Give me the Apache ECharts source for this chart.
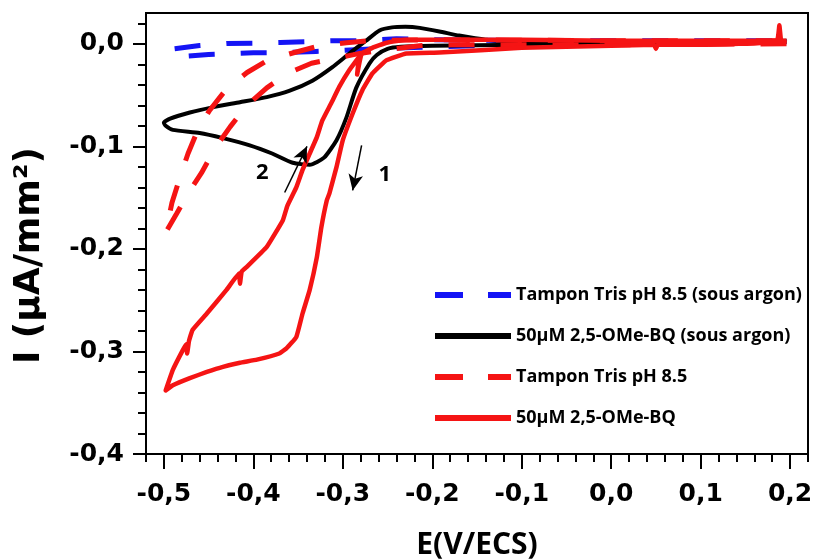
<!DOCTYPE html>
<html><head><meta charset="utf-8">
<script src="https://cdn.jsdelivr.net/npm/echarts@6/dist/echarts.min.js"></script>
<style>html,body{margin:0;padding:0;background:#fff}#c{width:816px;height:560px}</style>
</head><body><div id="c"></div>
<script>
// ---------- data ----------
const seriesNames = ['Tampon Tris pH 8.5 (sous argon)', '50µM 2,5-OMe-BQ (sous argon)', 'Tampon Tris pH 8.5', '50µM 2,5-OMe-BQ'];
const seriesColors = ['#1414f5', '#000000', '#f51414', '#f51414'];

// Blue dashed: Tampon Tris pH 8.5 (sous argon)
const blueE = [0.196, 0.1, 0.0, -0.1, -0.2, -0.25, -0.28, -0.30, -0.33, -0.36, -0.40, -0.45, -0.48, -0.49,
               -0.49, -0.46, -0.43, -0.40, -0.37, -0.34, -0.31, -0.28, -0.24, -0.2, -0.1, 0.0, 0.1, 0.196];
const blueI = [0.002, 0.001, 0.0, -0.001, -0.003, -0.0045, -0.0055, -0.0065, -0.0075, -0.0085, -0.0088, -0.0104, -0.0124, -0.013,
               -0.005, -0.0017, 0.0003, 0.0005, 0.0013, 0.002, 0.003, 0.003, 0.005, 0.004, 0.003, 0.003, 0.003, 0.003];

// Black solid: 50µM 2,5-OMe-BQ (sous argon)
const blackE = [0.196, 0.1, 0.0, -0.1, -0.2, -0.235, -0.250, -0.262, -0.270, -0.285, -0.296, -0.307, -0.321, -0.337, -0.356, -0.379, -0.404, -0.434, -0.460, -0.490, -0.498, -0.500,
                -0.493, -0.471, -0.446, -0.415, -0.385, -0.360, -0.334, -0.312, -0.292, -0.274, -0.259, -0.245, -0.230, -0.214, -0.192, -0.170, -0.140, -0.100, 0.0, 0.1, 0.196];
const blackI = [0.003, 0.001, 0.0, -0.001, -0.002, -0.003, -0.005, -0.011, -0.019, -0.043, -0.072, -0.094, -0.111, -0.118, -0.116, -0.107, -0.099, -0.092, -0.087, -0.084, -0.080, -0.077,
                -0.073, -0.067, -0.062, -0.057, -0.052, -0.046, -0.036, -0.023, -0.009, 0.003, 0.013, 0.016, 0.0165, 0.0155, 0.012, 0.008, 0.004, 0.002, 0.001, 0.001, 0.002];

// Red dashed: Tampon Tris pH 8.5
const redDashE = [0.196, 0.0, -0.2, -0.214, -0.259, -0.281, -0.307, -0.335, -0.362, -0.385, -0.407, -0.426, -0.443, -0.458, -0.473, -0.486, -0.498,
                  -0.491, -0.482, -0.473, -0.462, -0.449, -0.430, -0.407, -0.384, -0.354, -0.326, -0.296, -0.270, -0.2, 0.0, 0.196];
const redDashI = [0.0, -0.001, -0.001, -0.002, -0.0065, -0.0094, -0.014, -0.019, -0.029, -0.043, -0.060, -0.081, -0.102, -0.126, -0.146, -0.166, -0.184,
                  -0.155, -0.130, -0.107, -0.084, -0.065, -0.044, -0.028, -0.016, -0.0085, -0.002, 0.001, 0.003, 0.004, 0.003, 0.003];

// Red solid: 50µM 2,5-OMe-BQ
const redE = [0.196, 0.19, 0.188, 0.185, 0.1, 0.052, 0.05, 0.048, 0.0, -0.1, -0.192, -0.229, -0.251, -0.267, -0.278, -0.289, -0.300, -0.307, -0.315, -0.318, -0.324, -0.329, -0.337, -0.345, -0.352, -0.363, -0.371, -0.396, -0.415, -0.434, -0.452, -0.471, -0.490, -0.498,
              -0.490, -0.479, -0.475, -0.474, -0.472, -0.468, -0.452, -0.430, -0.416, -0.415, -0.413, -0.408, -0.385, -0.367, -0.362, -0.352, -0.345, -0.337, -0.329, -0.323, -0.313, -0.304, -0.293, -0.282, -0.284, -0.279, -0.267, -0.251, -0.229, -0.1, 0.0, 0.1, 0.196];
const redI = [0.001, 0.003, 0.018, 0.002, -0.001, -0.001, -0.005, -0.001, -0.002, -0.004, -0.0085, -0.0094, -0.016, -0.029, -0.045, -0.068, -0.094, -0.120, -0.146, -0.153, -0.179, -0.208, -0.240, -0.263, -0.286, -0.297, -0.302, -0.308, -0.311, -0.315, -0.320, -0.326, -0.333, -0.338,
              -0.318, -0.299, -0.293, -0.302, -0.290, -0.279, -0.263, -0.240, -0.224, -0.234, -0.222, -0.218, -0.198, -0.172, -0.158, -0.140, -0.123, -0.107, -0.091, -0.075, -0.058, -0.042, -0.026, -0.013, -0.030, -0.010, -0.004, 0.001, 0.004, 0.004, 0.003, 0.003, 0.003];

// Annotations (data coordinates)
const arrow1 = [[-0.279, -0.099], [-0.289, -0.143]];
const arrow2 = [[-0.365, -0.145], [-0.340, -0.100]];
const arrowLabels = [{ text: '1', at: [-0.253, -0.128] }, { text: '2', at: [-0.390, -0.126] }];

// Axes ticks
const xMin = -0.52, xMax = 0.22, yMin = -0.4, yMax = 0.03;
const xMajor = [-0.5, -0.4, -0.3, -0.2, -0.1, 0.0, 0.1, 0.2];
const yMajor = [-0.4, -0.3, -0.2, -0.1, 0.0];
const xMinor = []; for (let k = -26; k <= 11; k++) xMinor.push(+(k * 0.02).toFixed(2));
const yMinor = []; for (let k = -20; k <= 1; k++) yMinor.push(+(k * 0.02).toFixed(2));

// ---------- chart ----------
const pairs = (E, I) => E.map((e, i) => [e, I[i]]);
const fmt = v => (Math.abs(v) < 1e-9 ? 0 : v).toFixed(1).replace('.', ',');
const tickFont = { fontFamily: 'DejaVu Sans', fontWeight: 'bold', fontSize: 25, color: '#000' };

const chart = echarts.init(document.getElementById('c'), null, { renderer: 'canvas' });
const grid = { left: 146, right: 8, top: 13, bottom: 106, show: true, borderColor: '#000', borderWidth: 2,
               containLabel: false, outerBoundsMode: 'none' };

const xAxes = [
  { type: 'value', min: xMin, max: xMax, position: 'bottom',
    axisLine: { show: true, onZero: false, lineStyle: { color: '#000', width: 2 } },
    axisTick: { show: true, customValues: xMajor, length: 15, lineStyle: { color: '#000', width: 2 } },
    axisLabel: { customValues: xMajor, formatter: fmt, margin: 28, ...tickFont },
    splitLine: { show: false },
    name: 'E(V/ECS)', nameLocation: 'middle', nameGap: 76,
    nameTextStyle: { fontFamily: 'Open Sans', fontWeight: 'bold', fontSize: 30, color: '#000' } },
  { type: 'value', min: xMin, max: xMax, position: 'bottom',
    axisLine: { show: false, onZero: false },
    axisTick: { show: true, customValues: xMinor, length: 8, lineStyle: { color: '#000', width: 2 } },
    axisLabel: { show: false }, splitLine: { show: false } }
];
const yAxes = [
  { type: 'value', min: yMin, max: yMax, position: 'left',
    axisLine: { show: true, onZero: false, lineStyle: { color: '#000', width: 2 } },
    axisTick: { show: true, customValues: yMajor, length: 13, lineStyle: { color: '#000', width: 2 } },
    axisLabel: { customValues: yMajor, formatter: fmt, margin: 22, ...tickFont },
    splitLine: { show: false },
    name: 'I (µA/mm²)', nameLocation: 'middle', nameGap: 98, nameRotate: 90,
    nameTextStyle: { fontFamily: 'DejaVu Sans', fontWeight: 'bold', fontSize: 36, color: '#000', padding: [0, 44, 0, 0] } },
  { type: 'value', min: yMin, max: yMax, position: 'left',
    axisLine: { show: false, onZero: false },
    axisTick: { show: true, customValues: yMinor, length: 8, lineStyle: { color: '#000', width: 2 } },
    axisLabel: { show: false }, splitLine: { show: false } }
];

const base = { type: 'line', xAxisIndex: 0, yAxisIndex: 0, symbol: 'none', showSymbol: false, animation: false, z: 2 };
const arrowLine = (a) => [{ coord: a[0], symbol: 'none' }, { coord: a[1], symbol: 'arrow', symbolSize: [11, 16] }];

const series = [
  { ...base, name: seriesNames[0], data: pairs(blueE, blueI), color: seriesColors[0],
    lineStyle: { color: seriesColors[0], width: 5, type: [26, 26] } },
  { ...base, name: seriesNames[1], data: pairs(blackE, blackI), color: seriesColors[1], smooth: 0.2,
    lineStyle: { color: seriesColors[1], width: 4, join: 'round' },
    markLine: { silent: true, animation: false, symbol: ['none', 'arrow'], label: { show: false },
      lineStyle: { color: '#000', width: 1.5, type: 'solid' },
      data: [arrowLine(arrow1), arrowLine(arrow2)] },
    markPoint: { silent: true, animation: false, symbol: 'rect', symbolSize: 1, itemStyle: { color: 'rgba(0,0,0,0)' },
      label: { show: true, position: 'inside', formatter: p => p.name, fontFamily: 'Open Sans', fontWeight: 'bold', fontSize: 22, color: '#000' },
      data: arrowLabels.map(l => ({ name: l.text, coord: l.at })) } },
  { ...base, name: seriesNames[2], data: pairs(redDashE, redDashI), color: seriesColors[2],
    lineStyle: { color: seriesColors[2], width: 5, type: [26, 26] } },
  { ...base, name: seriesNames[3], data: pairs(redE, redI), color: seriesColors[3], smooth: 0.1,
    lineStyle: { color: seriesColors[3], width: 4.5, join: 'round' } }
];

const hiddenMark = { opacity: 0, color: 'rgba(0,0,0,0)', borderWidth: 0 };
chart.setOption({
  animation: false,
  backgroundColor: '#fff',
  grid,
  xAxis: xAxes,
  yAxis: yAxes,
  legend: {
    orient: 'vertical', left: 427, top: 281, padding: 5, itemWidth: 76, itemHeight: 14, itemGap: 23,
    textStyle: { fontFamily: 'Open Sans', fontWeight: 'bold', fontSize: 18, color: '#000' },
    data: [
      { name: seriesNames[0], itemStyle: hiddenMark, lineStyle: { color: seriesColors[0], width: 6, type: [28, 25] } },
      { name: seriesNames[1], itemStyle: hiddenMark, lineStyle: { color: seriesColors[1], width: 6, type: 'solid' } },
      { name: seriesNames[2], itemStyle: hiddenMark, lineStyle: { color: seriesColors[2], width: 6, type: [28, 25] } },
      { name: seriesNames[3], itemStyle: hiddenMark, lineStyle: { color: seriesColors[3], width: 6, type: 'solid' } }
    ]
  },
  series
});
</script>
</body></html>
